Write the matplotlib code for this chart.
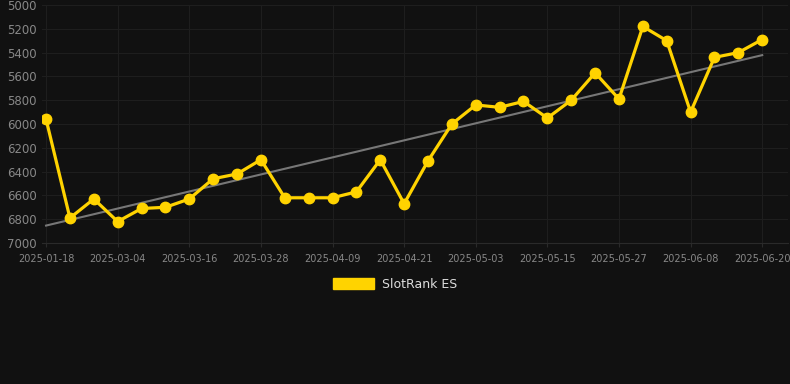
import numpy as np
import matplotlib
matplotlib.use("Agg")
import matplotlib.pyplot as plt
from matplotlib.patches import Patch

# dates on a category axis (only every third one is labelled)
dates = ["2025-01-18", "2025-02-19", "2025-02-26", "2025-03-04", "2025-03-08",
         "2025-03-12", "2025-03-16", "2025-03-20", "2025-03-24", "2025-03-28",
         "2025-04-01", "2025-04-05", "2025-04-09", "2025-04-13", "2025-04-17",
         "2025-04-21", "2025-04-25", "2025-04-29", "2025-05-03", "2025-05-07",
         "2025-05-11", "2025-05-15", "2025-05-19", "2025-05-23", "2025-05-27",
         "2025-05-31", "2025-06-04", "2025-06-08", "2025-06-12", "2025-06-16",
         "2025-06-20"]
rank = [5960, 6790, 6630, 6820, 6710, 6700, 6630, 6460, 6420, 6300,
        6620, 6620, 6620, 6570, 6300, 6670, 6310, 6000, 5840, 5860,
        5810, 5950, 5800, 5570, 5790, 5180, 5300, 5900, 5440, 5400,
        5290]
yticks = [5000, 5200, 5400, 5600, 5800, 6000, 6200, 6400, 6600, 6800, 7000]

bg = "#111111"
gold = "#FFD300"

fig = plt.figure(figsize=(7.9, 3.84), dpi=100, facecolor=bg)
ax = fig.add_axes([42 / 790, 1 - 243 / 384, 746 / 790, 238 / 384])
ax.set_facecolor(bg)

x = np.arange(len(rank))

# trend line
k, b = np.polyfit(x, rank, 1)
ax.plot(x, k * x + b, color="#777777", lw=1.5, zorder=2)

ax.plot(x, rank, color=gold, lw=2.3, marker="o", ms=7.5, zorder=3)

ax.set_ylim(7000, 5000)
ax.set_yticks(yticks)
ax.set_xlim(-0.17, 31.08)
ax.set_xticks(x[::3])
ax.set_xticklabels(dates[::3])

ax.grid(True, color="#1e1e1e", lw=0.8)
ax.set_axisbelow(True)
for s in ["top", "right", "left"]:
    ax.spines[s].set_visible(False)
ax.spines["bottom"].set_color("#2a2a2a")
ax.tick_params(axis="y", length=0, labelsize=8.5, colors="#888888", pad=4)
ax.tick_params(axis="x", length=3, color="#2a2a2a", labelsize=7,
               colors="#888888", pad=5)
ax.tick_params(axis="x", color="#2a2a2a")

fig.legend(handles=[Patch(color=gold, label="SlotRank ES")],
           loc="center", bbox_to_anchor=(0.5, 1 - 284 / 384),
           frameon=False, labelcolor="#dddddd", fontsize=9,
           handlelength=3.3, handleheight=0.95, handletextpad=0.6)

fig.savefig("out.png", dpi=100, facecolor=bg)
